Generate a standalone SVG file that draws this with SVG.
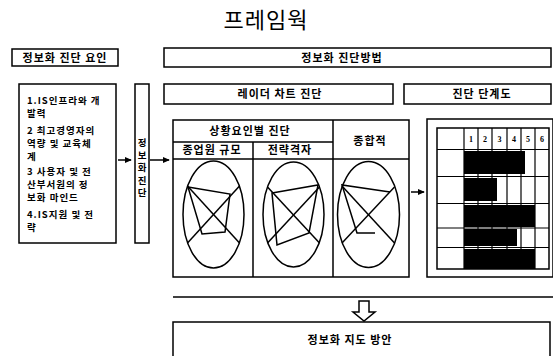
<svg xmlns="http://www.w3.org/2000/svg" width="553" height="356" viewBox="0 0 553 356">
<style>
.box{fill:#fff;stroke:#000;stroke-width:1.5}
.ln{fill:none;stroke:#000;stroke-width:1.5}
.t{font-family:"Noto Sans CJK KR","Noto Sans",sans-serif;font-weight:700;fill:#000}
.tm{font-size:11px;text-anchor:middle;letter-spacing:1px}
.tl{font-size:9.5px;letter-spacing:1px}
.tv{font-size:9.5px;text-anchor:middle}
.n{font-family:"Liberation Serif",serif;font-weight:700;font-size:8px;text-anchor:middle}
.bar{fill:#000}
</style>
<defs>
<marker id="ah" viewBox="0 0 8 8" refX="7" refY="4" markerWidth="7" markerHeight="7" markerUnits="userSpaceOnUse" orient="auto">
<path d="M0,0.5 L8,4 L0,7.5 Z" fill="#000"/>
</marker>
</defs>
<rect width="553" height="356" fill="#fff"/>

<text x="266" y="28" font-family="Noto Sans CJK KR, Noto Sans, sans-serif" font-size="22" text-anchor="middle" fill="#000" letter-spacing="1">프레임웍</text>

<g id="factors-title">
<rect class="box" x="12" y="49" width="106" height="17"/>
<text class="t tm" x="65" y="61.5">정보화 진단 요인</text>
</g>

<g id="factors-list">
<rect class="box" x="19" y="84" width="97" height="159"/>
<text class="t tl" x="27" y="104">1.IS인프라와 개</text>
<text class="t tl" x="27" y="117">발력</text>
<text class="t tl" x="27" y="134">2 최고경영자의</text>
<text class="t tl" x="27" y="147">역량 및 교육체</text>
<text class="t tl" x="27" y="160">계</text>
<text class="t tl" x="27" y="175">3 사용자 및 전</text>
<text class="t tl" x="27" y="188">산부서원의 정</text>
<text class="t tl" x="27" y="201">보화 마인드</text>
<text class="t tl" x="27" y="218">4.IS지원 및 전</text>
<text class="t tl" x="27" y="231">략</text>
</g>

<g id="diag-vertical">
<rect class="box" x="135" y="84" width="14" height="159"/>
<text class="t tv" x="142" y="146">정</text>
<text class="t tv" x="142" y="158.5">보</text>
<text class="t tv" x="142" y="171">화</text>
<text class="t tv" x="142" y="183.5">진</text>
<text class="t tv" x="142" y="196">단</text>
</g>

<g id="method-title">
<rect class="box" x="164" y="48" width="387" height="19"/>
<text class="t tm" x="342" y="61.5">정보화 진단방법</text>
</g>

<g id="radar-title">
<rect class="box" x="164" y="84" width="229" height="20"/>
<text class="t tm" x="280" y="98">레이더 차트 진단</text>
</g>

<g id="stage-title">
<rect class="box" x="404" y="84" width="147" height="20"/>
<text class="t tm" x="482" y="98">진단 단계도</text>
</g>

<g id="radar-panel">
<rect class="box" x="173" y="120" width="236" height="157"/>
<line class="ln" x1="173" y1="142" x2="333" y2="142"/>
<line class="ln" x1="173" y1="159" x2="409" y2="159"/>
<line class="ln" x1="253" y1="142" x2="253" y2="277"/>
<line class="ln" x1="333" y1="120" x2="333" y2="277"/>
<text class="t tm" x="250" y="135">상황요인별 진단</text>
<text class="t tm" x="212" y="154">종업원 규모</text>
<text class="t tm" x="290" y="154">전략격자</text>
<text class="t tm" x="370" y="145">종합적</text>
</g>

<g id="radar-1">
<ellipse class="ln" cx="213.5" cy="214.5" rx="30.5" ry="53.5"/>
<line class="ln" x1="187.5" y1="186" x2="239.5" y2="243"/>
<line class="ln" x1="239.5" y1="186" x2="187.5" y2="243"/>
<polygon class="ln" points="188,187 230,194 225,232 202,234"/>
</g>

<g id="radar-2">
<ellipse class="ln" cx="293.5" cy="214.5" rx="30.5" ry="52.5"/>
<line class="ln" x1="267.5" y1="187" x2="319.5" y2="243"/>
<line class="ln" x1="319.5" y1="187" x2="267.5" y2="243"/>
<polygon class="ln" points="272,193 318,185 309,233 277,245"/>
</g>

<g id="radar-3">
<ellipse class="ln" cx="368.5" cy="214.5" rx="31" ry="53"/>
<line class="ln" x1="342" y1="186" x2="394.5" y2="243"/>
<line class="ln" x1="394.5" y1="187" x2="342" y2="243"/>
<polyline class="ln" points="390,192 342,185 357,233 375,233"/>
</g>

<g id="stage-panel">
<rect class="box" x="427" y="119" width="126" height="158"/>
<rect class="box" x="437" y="128" width="112" height="141"/>
<g class="bars">
<rect class="bar" x="464" y="151" width="61" height="23"/>
<rect class="bar" x="464" y="178" width="33" height="23"/>
<rect class="bar" x="464" y="205" width="71" height="22"/>
<rect class="bar" x="464" y="229" width="53" height="17"/>
<rect class="bar" x="464" y="249" width="71" height="20"/>
</g>
<g stroke="#000" stroke-width="1.2">
<line x1="437" y1="149.5" x2="549" y2="149.5"/>
<line x1="437" y1="176.5" x2="549" y2="176.5"/>
<line x1="437" y1="203.5" x2="549" y2="203.5"/>
<line x1="437" y1="228" x2="549" y2="228"/>
<line x1="437" y1="247.5" x2="549" y2="247.5"/>
<line x1="464" y1="128" x2="464" y2="269"/>
<line x1="478" y1="128" x2="478" y2="269"/>
<line x1="492" y1="128" x2="492" y2="269"/>
<line x1="507" y1="128" x2="507" y2="269"/>
<line x1="521" y1="128" x2="521" y2="269"/>
<line x1="535" y1="128" x2="535" y2="269"/>
</g>
<text class="n" x="471" y="142">1</text>
<text class="n" x="485" y="142">2</text>
<text class="n" x="499.5" y="142">3</text>
<text class="n" x="514" y="142">4</text>
<text class="n" x="528" y="142">5</text>
<text class="n" x="542" y="142">6</text>
</g>

<g id="result">
<rect class="box" x="173" y="322" width="377" height="40"/>
<text class="t tm" x="350" y="344">정보화 지도 방안</text>
</g>

<g id="connectors">
<line class="ln" x1="118" y1="160" x2="131" y2="160" marker-end="url(#ah)"/>
<line class="ln" x1="150" y1="160" x2="169" y2="160" marker-end="url(#ah)"/>
<line class="ln" x1="411" y1="192" x2="424" y2="192" marker-end="url(#ah)"/>
<line class="ln" x1="173" y1="297" x2="553" y2="297"/>
<path class="ln" d="M359,301 H369 V312 H375 L364,321 L353,312 H359 Z"/>
</g>
</svg>
